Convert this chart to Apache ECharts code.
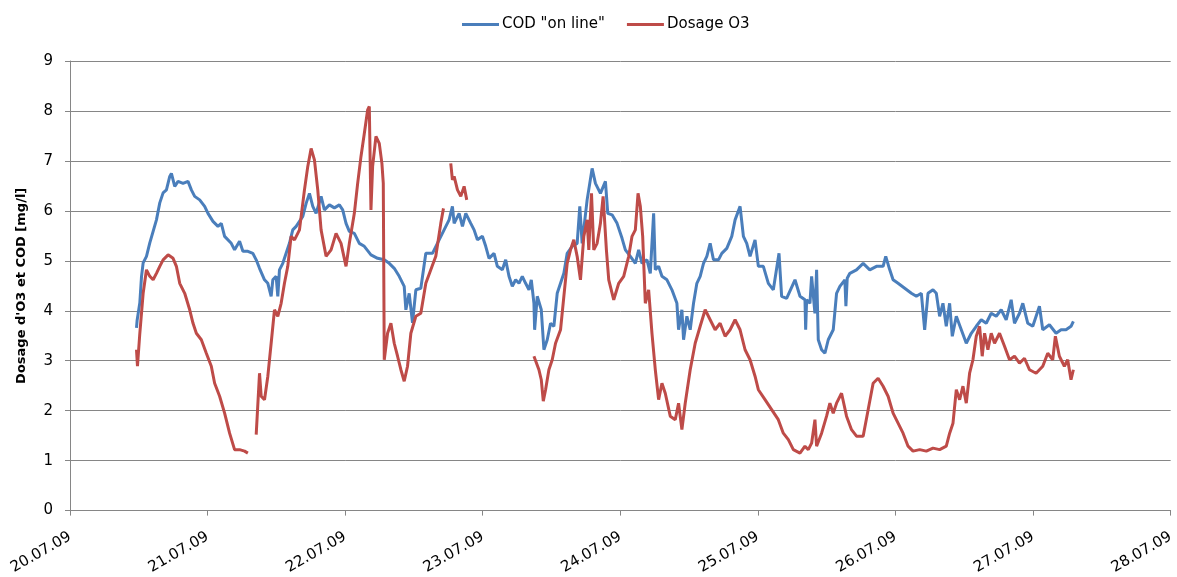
<!DOCTYPE html>
<html>
<head>
<meta charset="utf-8">
<title>COD on line / Dosage O3</title>
<script src="https://cdn.jsdelivr.net/npm/echarts@6/dist/echarts.min.js"></script>
<style>
  html, body { margin: 0; padding: 0; background: #fff; }
  #chart { width: 1177px; height: 577px; }
</style>
</head>
<body>
<div id="chart"></div>
<script>
// x values are hours since 20.07.09 00:00
var dayLabels = ['20.07.09', '21.07.09', '22.07.09', '23.07.09', '24.07.09', '25.07.09', '26.07.09', '27.07.09', '28.07.09'];
var yTicks = [0, 1, 2, 3, 4, 5, 6, 7, 8, 9];

var codHours = [
  11.6, 11.7, 12.18, 12.47, 12.76, 13.34, 13.92, 14.5, 15.08, 15.66,
  16.24, 16.82, 17.4, 17.69, 18.27, 18.85, 19.72, 20.59, 21.17, 21.75,
  22.62, 23.49, 24.07, 24.94, 25.81, 26.39, 26.97, 28.13, 28.71, 29.58,
  30.16, 31.03, 31.9, 32.48, 33.06, 33.93, 34.51, 35.09, 35.38, 35.96,
  36.25, 36.54, 37.12, 37.7, 38.28, 38.86, 39.45, 40.61, 41.19, 41.77,
  42.35, 42.93, 43.8, 44.38, 45.25, 46.12, 46.99, 47.57, 48.15, 48.73,
  49.6, 50.47, 51.34, 52.5, 53.66, 54.82, 55.69, 56.56, 57.43, 58.3,
  58.59, 59.17, 59.75, 60.33, 61.2, 62.07, 63.23, 64.39, 65.26, 66.13,
  66.71, 67.01, 67.88, 68.46, 69.04, 69.91, 70.49, 71.07, 71.94, 72.52,
  73.1, 73.97, 74.55, 75.42, 76.0, 76.58, 77.16, 77.74, 78.32, 78.9,
  79.48, 80.06, 80.47, 80.93, 81.05, 81.51, 82.21, 82.67, 83.25, 83.83,
  84.41, 84.99, 85.57, 86.15, 86.73, 87.6, 88.47, 88.93, 89.34, 90.21,
  91.08, 91.66, 92.53, 93.4, 93.81, 94.56, 95.43, 96.3, 96.88, 97.75,
  98.62, 99.2, 99.78, 100.65, 101.23, 101.81, 102.1, 102.68, 103.26, 104.13,
  105.0, 105.87, 106.16, 106.74, 107.03, 107.61, 108.19, 108.77, 109.35, 109.93,
  110.51, 111.09, 111.67, 112.25, 113.12, 113.7, 114.57, 115.44, 116.02, 116.89,
  117.47, 118.05, 118.63, 119.5, 120.08, 120.95, 121.82, 122.69, 123.68, 124.14,
  125.01, 126.47, 127.34, 128.21, 128.33, 128.5, 129.08, 129.37, 129.95, 130.24,
  130.53, 131.11, 131.69, 132.27, 133.14, 133.72, 134.3, 135.17, 135.35, 135.58,
  136.04, 137.2, 138.36, 139.52, 140.68, 141.84, 142.3, 143.0, 143.58, 144.45,
  145.61, 146.77, 147.64, 148.51, 149.09, 149.67, 150.54, 151.12, 151.7, 152.28,
  152.86, 153.44, 153.91, 154.61, 155.48, 156.35, 157.22, 158.09, 158.96, 159.83,
  160.7, 161.57, 162.44, 163.31, 164.18, 164.76, 165.63, 166.21, 167.08, 167.95,
  169.11, 169.69, 170.85, 172.01, 172.88, 173.75, 174.62, 175.03
];
var codValues = [
  3.66, 3.8, 4.16, 4.68, 4.96, 5.09, 5.36, 5.59, 5.82, 6.16,
  6.36, 6.42, 6.69, 6.75, 6.49, 6.59, 6.55, 6.59, 6.42, 6.29,
  6.22, 6.09, 5.95, 5.79, 5.69, 5.75, 5.49, 5.35, 5.22, 5.39,
  5.19, 5.19, 5.15, 5.02, 4.85, 4.62, 4.55, 4.29, 4.62, 4.69,
  4.29, 4.82, 4.95, 5.15, 5.35, 5.62, 5.69, 5.89, 6.15, 6.35,
  6.09, 5.95, 6.29, 6.02, 6.12, 6.06, 6.12, 6.02, 5.75, 5.59,
  5.55, 5.35, 5.29, 5.12, 5.05, 5.02, 4.95, 4.85, 4.69, 4.49,
  4.02, 4.35, 3.76, 4.42, 4.45, 5.15, 5.15, 5.42, 5.62, 5.82,
  6.09, 5.75, 5.95, 5.69, 5.95, 5.75, 5.62, 5.42, 5.49, 5.29,
  5.05, 5.15, 4.89, 4.82, 5.02, 4.69, 4.49, 4.62, 4.55, 4.69,
  4.55, 4.42, 4.62, 4.15, 3.62, 4.29, 4.02, 3.22, 3.42, 3.75,
  3.69, 4.35, 4.55, 4.75, 5.15, 5.29, 5.35, 6.09, 5.35, 6.22,
  6.85, 6.55, 6.35, 6.59, 5.95, 5.92, 5.75, 5.45, 5.22, 5.09,
  4.95, 5.22, 4.95, 5.02, 4.75, 5.95, 4.82, 4.89, 4.69, 4.62,
  4.42, 4.15, 3.62, 4.02, 3.42, 3.89, 3.62, 4.15, 4.55, 4.69,
  4.95, 5.09, 5.35, 5.02, 5.02, 5.15, 5.25, 5.49, 5.82, 6.09,
  5.49, 5.35, 5.09, 5.42, 4.89, 4.89, 4.55, 4.42, 5.15, 4.29,
  4.25, 4.62, 4.29, 4.22, 3.62, 4.22, 4.15, 4.69, 3.95, 4.82,
  3.42, 3.22, 3.15, 3.42, 3.62, 4.35, 4.49, 4.62, 4.09, 4.65,
  4.75, 4.82, 4.95, 4.82, 4.89, 4.89, 5.09, 4.82, 4.62, 4.55,
  4.45, 4.35, 4.29, 4.35, 3.62, 4.35, 4.42, 4.35, 3.89, 4.15,
  3.69, 4.15, 3.49, 3.89, 3.62, 3.35, 3.55, 3.69, 3.82, 3.75,
  3.95, 3.89, 4.02, 3.82, 4.22, 3.75, 3.95, 4.15, 3.75, 3.69,
  4.09, 3.62, 3.72, 3.55, 3.62, 3.62, 3.69, 3.79
];

// null = gap in the O3 record
var o3Hours = [
  11.6, 11.77, 12.18, 12.76, 13.34, 13.92, 14.5, 15.08, 15.66, 16.24,
  17.11, 17.98, 18.56, 19.14, 20.01, 20.88, 21.46, 22.04, 22.91, 23.78,
  24.65, 25.23, 26.1, 26.97, 27.84, 28.71, 29.58, 30.45, 31.03, 31.7,
  32.48, 33.06, 33.35, 33.93, 34.51, 35.09, 35.67, 36.25, 36.83, 37.41,
  37.99, 38.57, 39.16, 40.03, 40.9, 41.48, 42.06, 42.64, 43.22, 43.8,
  44.67, 45.54, 46.41, 47.28, 48.15, 48.73, 49.6, 50.18, 50.76, 51.34,
  51.92, 52.21, 52.5, 52.79, 53.37, 53.95, 54.41, 54.65, 54.82, 55.4,
  55.98, 56.56, 57.14, 57.72, 58.3, 58.88, 59.46, 60.33, 61.2, 62.07,
  62.94, 63.81, 64.68, 65.15, 65.8, 66.42, 66.71, 67.01, 67.59, 68.17,
  68.75, 69.21, 75.0, 80.93, 81.8, 82.21, 82.56, 82.96, 83.54, 84.12,
  84.7, 85.57, 86.15, 86.73, 87.31, 87.89, 88.47, 89.05, 89.63, 90.21,
  90.5, 90.97, 91.37, 91.95, 92.53, 93.0, 93.57, 93.98, 94.85, 95.72,
  96.59, 97.46, 98.04, 98.62, 99.09, 99.49, 99.9, 100.36, 100.94, 101.52,
  102.1, 102.68, 103.26, 103.84, 104.71, 105.58, 106.16, 106.74, 107.32, 108.19,
  109.06, 109.93, 110.8, 111.67, 112.54, 113.41, 114.28, 115.15, 116.02, 116.89,
  117.76, 118.63, 119.5, 120.08, 121.24, 122.4, 123.56, 124.43, 125.31, 126.18,
  127.34, 128.21, 128.79, 129.37, 129.95, 130.24, 131.11, 131.98, 132.56, 133.14,
  133.72, 134.59, 135.46, 136.33, 137.2, 138.36, 139.23, 140.1, 140.97, 141.84,
  142.71, 143.58, 144.45, 145.32, 146.19, 147.06, 148.22, 149.38, 150.54, 151.7,
  152.86, 153.45, 154.03, 154.61, 155.19, 155.77, 156.35, 156.93, 157.51, 158.09,
  158.67, 159.13, 159.54, 160.12, 160.7, 161.28, 162.15, 163.02, 163.89, 164.76,
  165.63, 166.5, 167.37, 168.53, 169.69, 170.56, 171.43, 171.89, 172.59, 173.46,
  174.04, 174.62, 175.03
];
var o3Values = [
  3.22, 2.89, 3.55, 4.35, 4.82, 4.69, 4.62, 4.75, 4.89, 5.02,
  5.12, 5.05, 4.89, 4.55, 4.35, 4.02, 3.75, 3.55, 3.42, 3.15,
  2.89, 2.55, 2.29, 1.95, 1.55, 1.22, 1.22, 1.19, 1.15, null,
  1.52, 2.75, 2.29, 2.22, 2.69, 3.35, 4.02, 3.89, 4.15, 4.55,
  4.89, 5.49, 5.42, 5.62, 6.42, 6.89, 7.25, 7.02, 6.42, 5.62,
  5.09, 5.22, 5.55, 5.35, 4.89, 5.35, 5.95, 6.55, 7.09, 7.55,
  8.02, 8.09, 6.02, 6.89, 7.49, 7.35, 6.95, 6.55, 3.02, 3.55,
  3.75, 3.35, 3.09, 2.82, 2.59, 2.89, 3.55, 3.89, 3.95, 4.55,
  4.82, 5.09, 5.75, 6.05, null, 6.95, 6.62, 6.69, 6.42, 6.29,
  6.49, 6.22, null, 3.09, 2.82, 2.62, 2.19, 2.42, 2.82, 3.02,
  3.35, 3.62, 4.29, 4.95, 5.22, 5.42, 5.09, 4.62, 5.49, 5.82,
  5.22, 6.35, 5.22, 5.35, 5.75, 6.29, 5.22, 4.62, 4.22, 4.55,
  4.69, 5.09, 5.49, 5.62, 6.35, 6.09, 5.49, 4.15, 4.42, 3.55,
  2.82, 2.22, 2.55, 2.35, 1.89, 1.82, 2.15, 1.62, 2.15, 2.82,
  3.35, 3.69, 4.02, 3.82, 3.62, 3.75, 3.49, 3.62, 3.82, 3.62,
  3.22, 3.02, 2.69, 2.42, 2.22, 2.02, 1.82, 1.55, 1.42, 1.22,
  1.15, 1.29, 1.22, 1.35, 1.82, 1.29, 1.55, 1.89, 2.15, 1.95,
  2.15, 2.35, 1.89, 1.62, 1.49, 1.49, 2.02, 2.55, 2.65, 2.49,
  2.29, 1.95, 1.75, 1.55, 1.29, 1.19, 1.22, 1.19, 1.25, 1.22,
  1.29, 1.55, 1.75, 2.42, 2.22, 2.49, 2.15, 2.75, 3.02, 3.49,
  3.69, 3.09, 3.55, 3.22, 3.55, 3.35, 3.55, 3.29, 3.02, 3.09,
  2.95, 3.05, 2.82, 2.75, 2.89, 3.15, 3.02, 3.49, 3.09, 2.89,
  3.02, 2.62, 2.82
];

function pairs(xs, ys) {
  var out = [];
  for (var i = 0; i < xs.length; i++) out.push([xs[i], ys[i]]);
  return out;
}

var font = '"DejaVu Sans", sans-serif';
var grey = '#868686';

var chart = echarts.init(document.getElementById('chart'));
chart.setOption({
  animation: false,
  color: ['#4a7ebb', '#be4b48'],
  textStyle: { fontFamily: font },
  legend: {
    top: 12,
    left: 457,
    icon: 'rect',
    itemWidth: 37,
    itemHeight: 3,
    itemGap: 22,
    textStyle: { fontSize: 15, color: '#000', fontFamily: font, padding: [0, 0, 0, -2] },
    data: ['COD "on line"', 'Dosage O3']
  },
  grid: { left: 70, right: 4, top: 61, bottom: 66 },
  xAxis: {
    type: 'value',
    min: 0,
    max: 192,
    interval: 24,
    axisLine: { lineStyle: { color: grey } },
    axisTick: { length: 5, lineStyle: { color: grey } },
    splitLine: { show: false },
    axisLabel: {
      rotate: 30,
      margin: 25,
      fontSize: 15,
      color: '#000',
      fontFamily: font,
      formatter: function (v) { return dayLabels[Math.round(v / 24)]; }
    }
  },
  yAxis: {
    type: 'value',
    min: yTicks[0],
    max: yTicks[yTicks.length - 1],
    interval: 1,
    name: "Dosage d'O3 et COD [mg/l]",
    nameLocation: 'middle',
    nameGap: 42,
    nameTextStyle: { fontSize: 13, fontWeight: 'bold', color: '#000', fontFamily: font },
    axisLine: { show: true, lineStyle: { color: grey } },
    axisTick: { show: true, length: 5, lineStyle: { color: grey } },
    splitLine: { lineStyle: { color: grey, width: 1 } },
    axisLabel: { fontSize: 15, color: '#000', margin: 17, fontFamily: font }
  },
  series: [
    {
      name: 'COD "on line"',
      type: 'line',
      symbol: 'none',
      connectNulls: false,
      lineStyle: { width: 3, color: '#4a7ebb' },
      data: pairs(codHours, codValues)
    },
    {
      name: 'Dosage O3',
      type: 'line',
      symbol: 'none',
      connectNulls: false,
      lineStyle: { width: 3, color: '#be4b48' },
      data: pairs(o3Hours, o3Values)
    }
  ]
});
</script>
</body>
</html>
